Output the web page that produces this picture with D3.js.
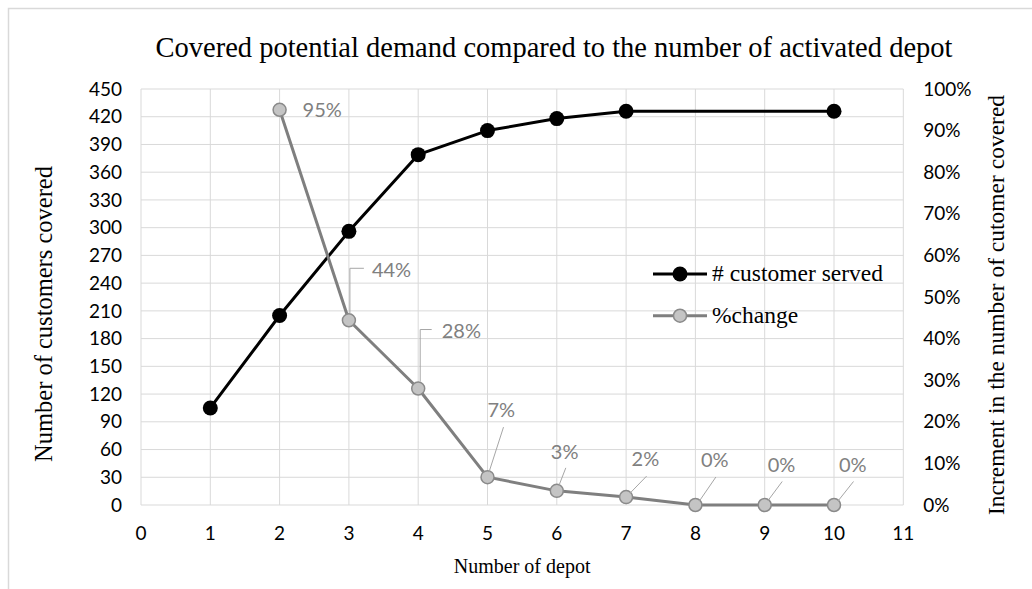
<!DOCTYPE html>
<html>
<head>
<meta charset="utf-8">
<script src="https://cdn.jsdelivr.net/npm/d3@7"></script>
<style>
  body { margin: 0; background: #fff; }
  svg { display: block; }
</style>
</head>
<body>
<div id="chart"></div>
<script>
// data
const servedDepots = [1, 2, 3, 4, 5, 6, 7, 10];
const customersServed = [105, 205, 296, 379, 405, 418, 426, 426];
const changeDepots = [2, 3, 4, 5, 6, 7, 8, 9, 10];
const pctChange = [0.95, 0.444, 0.28, 0.067, 0.034, 0.019, 0, 0, 0];
const xTicks = d3.range(0, 12);
const leftTicks = d3.range(0, 451, 30);
const rightTicks = d3.range(0, 11).map(i => i / 10);
const seriesNames = ["# customer served", "%change"];

// hand-placed data label offsets (text left/centre and leader ends, relative to the point)
const labelLayout = [
  {dx: 23, dy: 0, leader: null},
  {dx: 23, dy: -50, leader: [[1, -7], [1, -52], [15, -52]]},
  {dx: 23.5, dy: -58, leader: [[2, -7], [2, -59], [13.5, -59]]},
  {dx: 0, dy: -67, leader: [[16, -50], [1.5, -5]]},
  {dx: -6, dy: -39, leader: [[9, -23], [2, -5]]},
  {dx: 5.5, dy: -38, leader: [[20.5, -21], [4, -4]]},
  {dx: 5.5, dy: -45, leader: [[20.5, -28], [4, -4]]},
  {dx: 3, dy: -40, leader: [[17.5, -23.5], [3, -4]]},
  {dx: 5, dy: -40, leader: [[19.5, -23.5], [4, -4]]}
];

const margin = {top: 89, bottom: 84, left: 141, right: 128.7},
      width = 1032,
      height = 589;

const sansFont = "Lato, 'Open Sans', sans-serif";
const serifFont = "'Liberation Serif', 'DejaVu Serif', serif";
const gridColor = "#d9d9d9";
const grayLine = "#7f7f7f";
const pct = d3.format(".0%");

const svg = d3.select("#chart")
  .append("svg")
  .attr("width", width)
  .attr("height", height);

// scales map straight to page pixels
const x = d3.scaleLinear().domain([0, 11]).range([margin.left, width - margin.right]);
const yLeft = d3.scaleLinear().domain([0, 450]).range([height - margin.bottom, margin.top]);
const yRight = d3.scaleLinear().domain([0, 1]).range([height - margin.bottom, margin.top]);

// chart area frame: only its top and left edges show in the window
svg.append("path")
  .attr("d", `M8.5,${height}V8.5H${width}`)
  .attr("fill", "none")
  .attr("stroke", gridColor)
  .attr("stroke-width", 1.5);

// gridlines
svg.append("g")
  .selectAll("line")
  .data(leftTicks)
  .join("line")
  .attr("x1", x(0)).attr("x2", x(11))
  .attr("y1", d => yLeft(d)).attr("y2", d => yLeft(d))
  .attr("stroke", gridColor).attr("stroke-width", 1);
svg.append("g")
  .selectAll("line")
  .data(xTicks)
  .join("line")
  .attr("x1", d => x(d)).attr("x2", d => x(d))
  .attr("y1", yLeft(450)).attr("y2", yLeft(0))
  .attr("stroke", gridColor).attr("stroke-width", 1);

// tick labels
const tickStyle = sel => sel
  .attr("fill", "#000")
  .style("font-family", sansFont)
  .style("font-size", "19px");
svg.append("g")
  .selectAll("text")
  .data(leftTicks)
  .join("text")
  .attr("x", x(0) - 19)
  .attr("y", d => yLeft(d))
  .attr("dy", "0.35em")
  .attr("text-anchor", "end")
  .call(tickStyle)
  .text(d => d);
svg.append("g")
  .selectAll("text")
  .data(xTicks)
  .join("text")
  .attr("x", d => x(d))
  .attr("y", yLeft(0) + 28)
  .attr("dy", "0.35em")
  .attr("text-anchor", "middle")
  .call(tickStyle)
  .text(d => d);
svg.append("g")
  .selectAll("text")
  .data(rightTicks)
  .join("text")
  .attr("x", x(11) + 20)
  .attr("y", d => yRight(d))
  .attr("dy", "0.35em")
  .attr("text-anchor", "start")
  .call(tickStyle)
  .text(d => pct(d));

// series
const served = servedDepots.map((d, i) => ({x: d, y: customersServed[i]}));
const change = changeDepots.map((d, i) => ({x: d, y: pctChange[i]}));

svg.append("path")
  .datum(served)
  .attr("fill", "none")
  .attr("stroke", "#000")
  .attr("stroke-width", 3)
  .attr("stroke-linejoin", "round")
  .attr("d", d3.line().x(d => x(d.x)).y(d => yLeft(d.y)));
svg.append("g")
  .selectAll("circle")
  .data(served)
  .join("circle")
  .attr("cx", d => x(d.x))
  .attr("cy", d => yLeft(d.y))
  .attr("r", 7.5)
  .attr("fill", "#000");

svg.append("path")
  .datum(change)
  .attr("fill", "none")
  .attr("stroke", grayLine)
  .attr("stroke-width", 3)
  .attr("stroke-linejoin", "round")
  .attr("d", d3.line().x(d => x(d.x)).y(d => yRight(d.y)));
svg.append("g")
  .selectAll("circle")
  .data(change)
  .join("circle")
  .attr("cx", d => x(d.x))
  .attr("cy", d => yRight(d.y))
  .attr("r", 6.5)
  .attr("fill", "#c4c4c4")
  .attr("stroke", "#8a8a8a")
  .attr("stroke-width", 1.5);

// data labels with leader lines
const labels = svg.append("g")
  .selectAll("g")
  .data(change)
  .join("g")
  .attr("transform", d => `translate(${x(d.x)}, ${yRight(d.y)})`);
labels.filter((d, i) => labelLayout[i].leader)
  .append("path")
  .attr("fill", "none")
  .attr("stroke", "#a6a6a6")
  .attr("stroke-width", 1)
  .attr("d", d => d3.line()(labelLayout[change.indexOf(d)].leader));
labels.append("text")
  .attr("x", (d, i) => labelLayout[i].dx)
  .attr("y", (d, i) => labelLayout[i].dy)
  .attr("dy", "0.35em")
  .attr("fill", "#808080")
  .style("font-family", sansFont)
  .style("font-size", "20px")
  .text(d => pct(d.y));

// legend
const legend = svg.append("g")
  .selectAll("g")
  .data(seriesNames)
  .join("g")
  .attr("transform", (d, i) => `translate(653, ${274 + i * 41.7})`);
legend.append("line")
  .attr("x1", 0).attr("x2", 54)
  .attr("stroke", (d, i) => i === 0 ? "#000" : grayLine)
  .attr("stroke-width", 3);
legend.append("circle")
  .attr("cx", 27)
  .attr("r", (d, i) => i === 0 ? 7.5 : 6.5)
  .attr("fill", (d, i) => i === 0 ? "#000" : "#c4c4c4")
  .attr("stroke", (d, i) => i === 0 ? "none" : "#8a8a8a")
  .attr("stroke-width", 1.5);
legend.append("text")
  .attr("x", 59)
  .attr("dy", "0.3em")
  .style("font-family", serifFont)
  .style("font-size", "23.5px")
  .text(d => d);

// titles
svg.append("text")
  .attr("x", 554).attr("y", 57)
  .attr("text-anchor", "middle")
  .style("font-family", serifFont)
  .style("font-size", "28.5px")
  .text("Covered potential demand compared to the number of activated depot");
svg.append("text")
  .attr("transform", "translate(52, 314) rotate(-90)")
  .attr("text-anchor", "middle")
  .style("font-family", serifFont)
  .style("font-size", "24.5px")
  .text("Number of customers covered");
svg.append("text")
  .attr("transform", "translate(1004, 305) rotate(-90)")
  .attr("text-anchor", "middle")
  .style("font-family", serifFont)
  .style("font-size", "23.5px")
  .text("Increment in the number of cutomer covered");
svg.append("text")
  .attr("x", x(5.5)).attr("y", 573)
  .attr("text-anchor", "middle")
  .style("font-family", serifFont)
  .style("font-size", "20px")
  .text("Number of depot");
</script>
</body>
</html>
